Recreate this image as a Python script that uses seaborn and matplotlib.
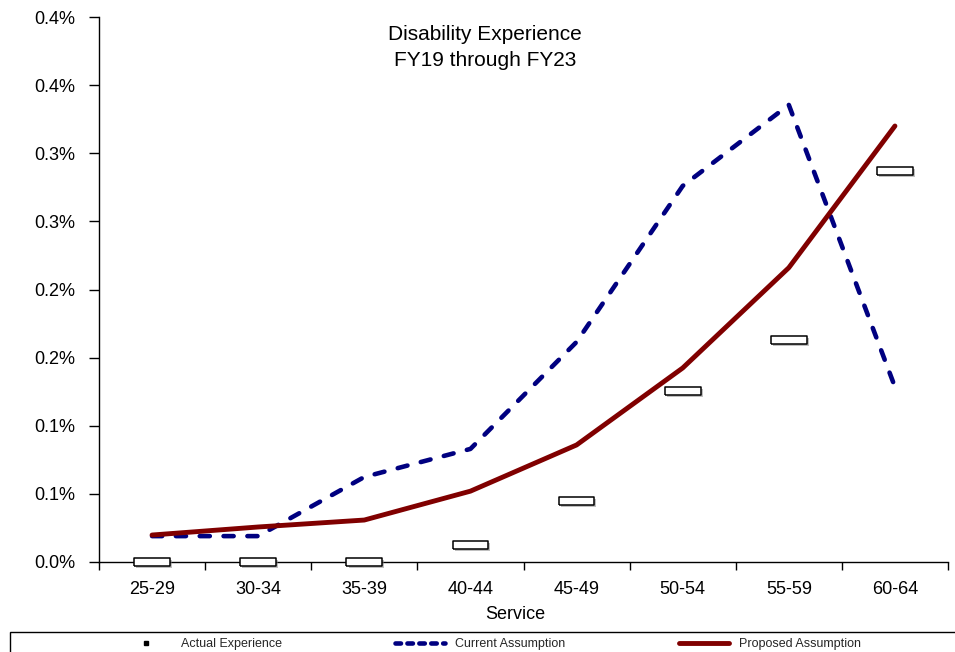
import matplotlib
matplotlib.use("Agg")
import matplotlib.pyplot as plt
import matplotlib.patheffects as pe
from matplotlib.lines import Line2D
from matplotlib.patches import Rectangle
import seaborn as sns
import pandas as pd

categories = ["25-29", "30-34", "35-39", "40-44", "45-49", "50-54", "55-59", "60-64"]
actual = [0.0, 0.0, 0.0, 0.000125, 0.000448, 0.001256, 0.00163, 0.00287]
current = [0.00019, 0.00019, 0.000624, 0.00083, 0.001615, 0.00276, 0.003355, 0.001285]
proposed = [0.000198, 0.000257, 0.000308, 0.00052, 0.000859, 0.001424, 0.00216, 0.0032]
ytick_values = [0.0, 0.0005, 0.001, 0.0015, 0.002, 0.0025, 0.003, 0.0035, 0.004]
ytick_labels = ["0.0%", "0.1%", "0.1%", "0.2%", "0.2%", "0.3%", "0.3%", "0.4%", "0.4%"]
title_lines = ["Disability Experience", "FY19 through FY23"]
legend_labels = ["Actual Experience", "Current Assumption", "Proposed Assumption"]

sns.set_theme(style="white")
plt.rcParams["font.family"] = ["Liberation Sans", "DejaVu Sans"]

df = pd.DataFrame({"Service": categories, "actual": actual,
                   "current": current, "proposed": proposed})

fig = plt.figure(figsize=(9.55, 6.52), dpi=100)
ax = fig.add_axes([99 / 955, 1 - 562 / 652, 849 / 955, 545 / 652])

blue = "#000080"
red = "#800000"

sns.lineplot(data=df, x="Service", y="current", sort=False, ax=ax, color=blue,
             linewidth=3.3, linestyle=(0, (2.2, 3.0)), dash_capstyle="round", zorder=3)
sns.lineplot(data=df, x="Service", y="proposed", sort=False, ax=ax, color=red,
             linewidth=3.5, solid_capstyle="round", zorder=4)

rect = [(-4.5, -1), (4.5, -1), (4.5, 1), (-4.5, 1), (-4.5, -1)]
sns.scatterplot(data=df, x="Service", y="actual", ax=ax, marker=rect, s=660,
                color="white", edgecolor="black", linewidth=1.1, zorder=5, clip_on=False)
for coll in ax.collections:
    coll.set_path_effects([pe.SimplePatchShadow(offset=(1.5, -1.5), shadow_rgbFace="gray", alpha=0.5),
                           pe.Normal()])
    coll.set_clip_on(False)

ax.set_xlim(-0.5, 7.5)
ax.set_ylim(0, 0.004)
ax.set_yticks(ytick_values)
ax.set_yticklabels(ytick_labels, fontsize=13, color="black")
ax.set_xticks(range(len(categories)))
ax.set_xticklabels(categories, fontsize=13, color="black")
ax.set_xticks([i - 0.5 for i in range(len(categories) + 1)], minor=True)
ax.tick_params(axis="x", which="major", length=0, pad=14)
ax.tick_params(axis="x", which="minor", length=6, width=1, direction="out", color="black", bottom=True)
ax.tick_params(axis="y", length=7, width=1, direction="out", color="black", left=True, pad=10)
ax.set_xlabel("Service", fontsize=13, color="black")
ax.xaxis.set_label_coords((515 - 99) / 849, -(606 - 562) / 545, transform=ax.transAxes)
ax.xaxis.label.set_va("top")
ax.set_ylabel("")
for s in ["top", "right"]:
    ax.spines[s].set_visible(False)
for s in ["left", "bottom"]:
    ax.spines[s].set_color("black")
    ax.spines[s].set_linewidth(1.0)

fig.text(485 / 955, 1 - 47.5 / 652, "\n".join(title_lines), ha="center", va="center",
         fontsize=15, color="black", linespacing=1.45)

handles = [
    Line2D([], [], color="black", marker="s", markersize=3.5, linestyle="none"),
    Line2D([], [], color=blue, linewidth=3.3, linestyle=(0, (1.2, 1.4)), dash_capstyle="round"),
    Line2D([], [], color=red, linewidth=3.5, solid_capstyle="round"),
]
fig.legend(handles, legend_labels, loc="center", bbox_to_anchor=(491 / 955, 1 - 644 / 652),
           ncol=3, frameon=False, fontsize=9, handlelength=4, handletextpad=0.8,
           columnspacing=9.1, borderpad=0, borderaxespad=0)
fig.patches.append(Rectangle((10 / 955, -0.05), 1.0, 0.05 + (652 - 632) / 652,
                             transform=fig.transFigure, fill=False, edgecolor="black",
                             linewidth=1.0, clip_on=False))

fig.savefig("out.png", dpi=100, facecolor="white")
